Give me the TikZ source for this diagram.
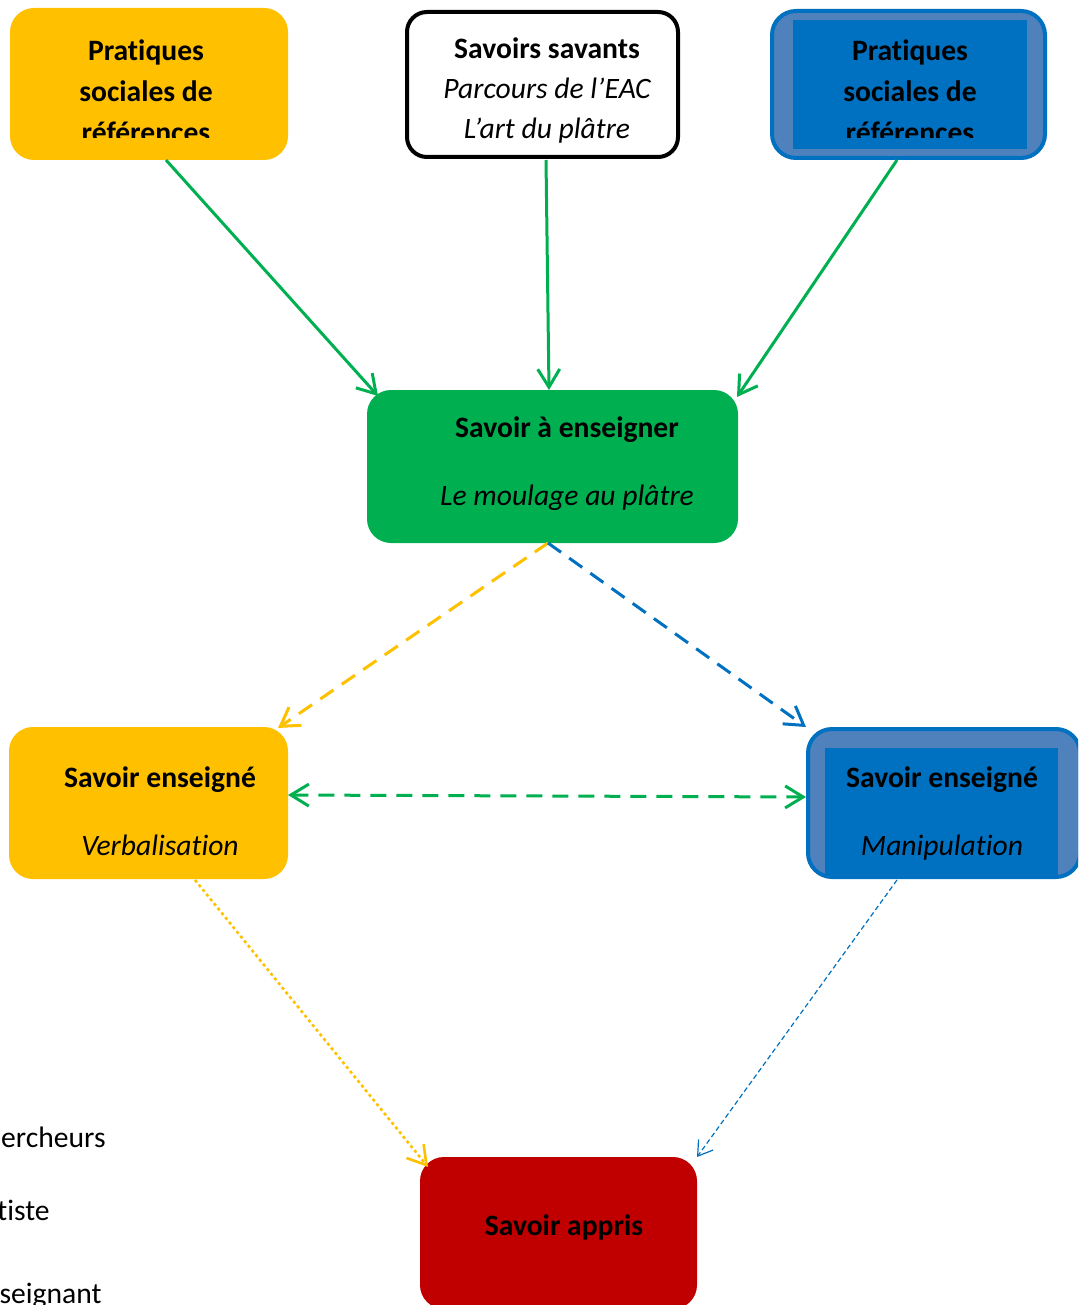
\documentclass[tikz,border=0pt]{standalone}
\usepackage{fontspec}
\setmainfont{Carlito}[RawFeature={-liga,-clig,-dlig,-rlig,-calt}]
\usetikzlibrary{arrows.meta,calc}
\definecolor{cyellow}{HTML}{FFC000}
\definecolor{cgreen}{HTML}{00B050}
\definecolor{cblue}{HTML}{0070C0}
\definecolor{cbluelight}{HTML}{4F81BD}
\definecolor{cred}{HTML}{C00000}
\begin{document}
\begin{tikzpicture}[x=0.5pt,y=-0.5pt,
  box/.style={rectangle, rounded corners=12pt, inner sep=0pt},
  bluebox/.style={box, draw=cblue, line width=2pt, fill=cbluelight},
  lbl/.style={inner sep=0pt, anchor=base, font=\fontsize{14.8pt}{20.5pt}\selectfont\bfseries},
  ilbl/.style={inner sep=0pt, anchor=base, font=\fontsize{14.8pt}{20.5pt}\selectfont\itshape},
  rlbl/.style={inner sep=0pt, anchor=base east, font=\fontsize{14.8pt}{20.5pt}\selectfont},
  tipbig/.style={-{Straight Barb[length=9pt,width=11pt]}},
  tipboth/.style={{Straight Barb[length=9pt,width=11pt]}-{Straight Barb[length=9pt,width=11pt]}},
  tipsmall/.style={-{Straight Barb[length=7pt,width=9pt]}},
]
\clip (0,0) rectangle (1078,1305);

% boxes
\node[box, fill=cyellow, minimum width=139pt, minimum height=76pt] (tl) at (149,84) {};
\node[box, draw=black, line width=2pt, fill=white, rounded corners=10pt, minimum width=135.5pt, minimum height=72.5pt] (tc) at (542.5,84.5) {};
\node[bluebox, minimum width=136.5pt, minimum height=73.5pt] (tr) at (908.5,84.5) {};
\fill[cblue] ($(tr)+(-115.5,-64.5)$) rectangle ($(tr)+(118.5,64.5)$);
\node[box, fill=cgreen, minimum width=185.5pt, minimum height=76.5pt] (sae) at (552.5,466.5) {};
\node[box, fill=cyellow, minimum width=139.5pt, minimum height=76pt] (ym) at (148.5,803) {};
\node[bluebox, minimum width=136pt, minimum height=74pt] (bm) at (944,803) {};
\fill[cblue] ($(bm)+(-119,-55)$) rectangle ($(bm)+(114,72)$);
\node[box, fill=cred, minimum width=138.5pt, minimum height=76pt] (red) at (558.5,1233) {};

% texts in top boxes (third line cut)
\begin{scope}
\clip (0,0) rectangle (1078,138);
\node[lbl] (tl1) at (146,61) {Pratiques};
\node[lbl] (tl2) at (146,102) {sociales de};
\node[lbl] (tl3) at (146,143) {références};
\node[lbl] (tr1) at (910,61) {Pratiques};
\node[lbl] (tr2) at (910,102) {sociales de};
\node[lbl] (tr3) at (910,143) {références};
\end{scope}
\node[lbl] (tc1) at (547,59) {Savoirs savants};
\node[ilbl] (tc2) at (547,99) {Parcours de l’EAC};
\node[ilbl] (tc3) at (547,139) {L’art du plâtre};

\node[lbl] (sae1) at (567,437) {Savoir à enseigner};
\node[ilbl] (sae2) at (567,505) {Le moulage au plâtre};

\node[lbl] (ym1) at (160,787) {Savoir enseigné};
\node[ilbl] (ym2) at (160,855) {Verbalisation};
\node[lbl] (bm1) at (942,787) {Savoir enseigné};
\node[ilbl] (bm2) at (942,855) {Manipulation};

\node[lbl] (red1) at (564,1235) {Savoir appris};

\node[rlbl] (leg1) at (106,1147) {Chercheurs};
\node[rlbl] (leg2) at (50,1220) {Artiste};
\node[rlbl] (leg3) at (102,1303) {Enseignant};

% connectors
\draw[cgreen, line width=1.5pt, tipbig] ($(tl)+(17,76)$) -- ($(sae)+(-174.5,-70.5)$);
\draw[cgreen, line width=1.5pt, tipbig] ($(tc)+(3.5,75.5)$) -- ($(sae)+(-3.5,-76.5)$);
\draw[cgreen, line width=1.5pt, tipbig] ($(tr)+(-11.5,75.5)$) -- ($(sae)+(184.5,-69.5)$);

\draw[cyellow, line width=1.5pt, dash pattern=on 8pt off 5pt, tipbig] ($(sae)+(-4.5,76.5)$) -- ($(ym)+(129.5,-75)$);
\draw[cblue, line width=1.5pt, dash pattern=on 8pt off 5pt, tipbig] ($(sae)+(-4.5,76.5)$) -- ($(bm)+(-138,-76)$);
\draw[cgreen, line width=1.5pt, dash pattern=on 8pt off 5pt, tipboth] ($(ym)+(139.5,-8)$) -- ($(bm)+(-138,-6)$);

\draw[cyellow, line width=1.3pt, dash pattern=on 1.5pt off 1.5pt, tipbig] ($(ym)+(46.5,77)$) -- ($(red)+(-130.5,-66)$);
\draw[cblue, line width=0.6pt, dash pattern=on 2.5pt off 1.5pt, tipsmall] ($(bm)+(-47,77)$) -- ($(red)+(138.5,-76)$);
\end{tikzpicture}
\end{document}
